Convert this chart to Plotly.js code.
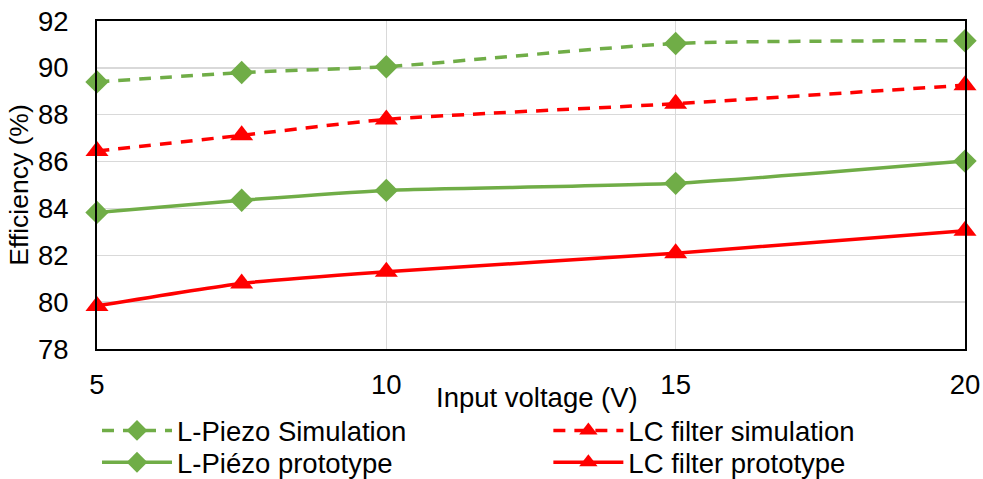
<!DOCTYPE html>
<html>
<head>
<meta charset="utf-8">
<script src="https://cdn.plot.ly/plotly-3.0.1.min.js"></script>
<style>
html,body{margin:0;padding:0;background:#fff;}
#chart{width:983px;height:479px;}
</style>
</head>
<body>
<div id="chart"></div>
<script>
const voltage = [5, 7.5, 10, 15, 20];
const lPiezoSim = [89.4, 89.8, 90.05, 91.04, 91.16];
const lcSim = [86.45, 87.12, 87.8, 88.47, 89.26];
const lPiezoProto = [83.83, 84.35, 84.77, 85.07, 86.02];
const lcProto = [79.84, 80.8, 81.3, 82.09, 83.05];
const xTicks = [5, 10, 15, 20];
const yTicks = [78, 80, 82, 84, 86, 88, 90, 92];

const green = '#70AD47';
const red = '#FF0000';
const FONT = 'Liberation Sans, Arial, sans-serif';
const FS = 27.5;

const traces = [
  {x: voltage, y: lPiezoSim, name: 'L-Piezo Simulation', mode: 'lines+markers', legend: 'legend',
   line: {color: green, width: 3.5, dash: '12px,9px', shape: 'spline', smoothing: 0.6},
   marker: {symbol: 'diamond', size: 18, color: green}, cliponaxis: false},
  {x: voltage, y: lcSim, name: 'LC filter simulation', mode: 'lines+markers', legend: 'legend2',
   line: {color: red, width: 3.5, dash: '12px,9px', shape: 'spline', smoothing: 0.6},
   marker: {symbol: 'triangle-up', size: 20, color: red}, cliponaxis: false},
  {x: voltage, y: lPiezoProto, name: 'L-Piézo prototype', mode: 'lines+markers', legend: 'legend3',
   line: {color: green, width: 3.5, shape: 'spline', smoothing: 0.6},
   marker: {symbol: 'diamond', size: 18, color: green}, cliponaxis: false},
  {x: voltage, y: lcProto, name: 'LC filter prototype', mode: 'lines+markers', legend: 'legend4',
   line: {color: red, width: 3.5, shape: 'spline', smoothing: 0.6},
   marker: {symbol: 'triangle-up', size: 20, color: red}, cliponaxis: false}
];

const legendBase = {
  orientation: 'v', xanchor: 'left', yanchor: 'top',
  itemwidth: 70, traceorder: 'normal',
  font: {family: FONT, size: FS, color: '#000'},
  bgcolor: 'rgba(0,0,0,0)'
};
const row1 = -0.174, row2 = -0.271;
const col1 = 0.0, col2 = 0.52;

const layout = {
  width: 983, height: 479,
  margin: {l: 97, r: 18, t: 21, b: 130, autoexpand: false},
  paper_bgcolor: '#fff', plot_bgcolor: '#fff',
  font: {family: FONT, size: FS, color: '#000'},
  showlegend: true,
  xaxis: {
    range: [5, 20], tickvals: xTicks, ticktext: xTicks.map(String),
    showgrid: true, gridcolor: '#D9D9D9', gridwidth: 1.5,
    showline: true, linecolor: '#000', linewidth: 2, mirror: true,
    ticks: '', ticklabelstandoff: 10, zeroline: false, automargin: false,
    tickfont: {family: FONT, size: FS, color: '#000'}
  },
  yaxis: {
    range: [78, 92], tickvals: yTicks, ticktext: yTicks.map(String),
    showgrid: true, gridcolor: '#D9D9D9', gridwidth: 1.5,
    showline: true, linecolor: '#000', linewidth: 2, mirror: true,
    ticks: '', ticklabelstandoff: 21, zeroline: false, automargin: false,
    tickfont: {family: FONT, size: FS, color: '#000'},
    title: {text: 'Efficiency (%)', font: {family: FONT, size: 26.5, color: '#000'}, standoff: 2}
  },
  annotations: [{
    text: 'Input voltage (V)', xref: 'paper', yref: 'paper',
    x: 0.507, y: -0.149, xanchor: 'center', yanchor: 'middle', showarrow: false,
    font: {family: FONT, size: FS, color: '#000'}
  }],
  legend: Object.assign({}, legendBase, {x: col1, y: row1}),
  legend2: Object.assign({}, legendBase, {x: col2, y: row1}),
  legend3: Object.assign({}, legendBase, {x: col1, y: row2}),
  legend4: Object.assign({}, legendBase, {x: col2, y: row2})
};

Plotly.newPlot('chart', traces, layout, {displayModeBar: false, staticPlot: true});
</script>
</body>
</html>
